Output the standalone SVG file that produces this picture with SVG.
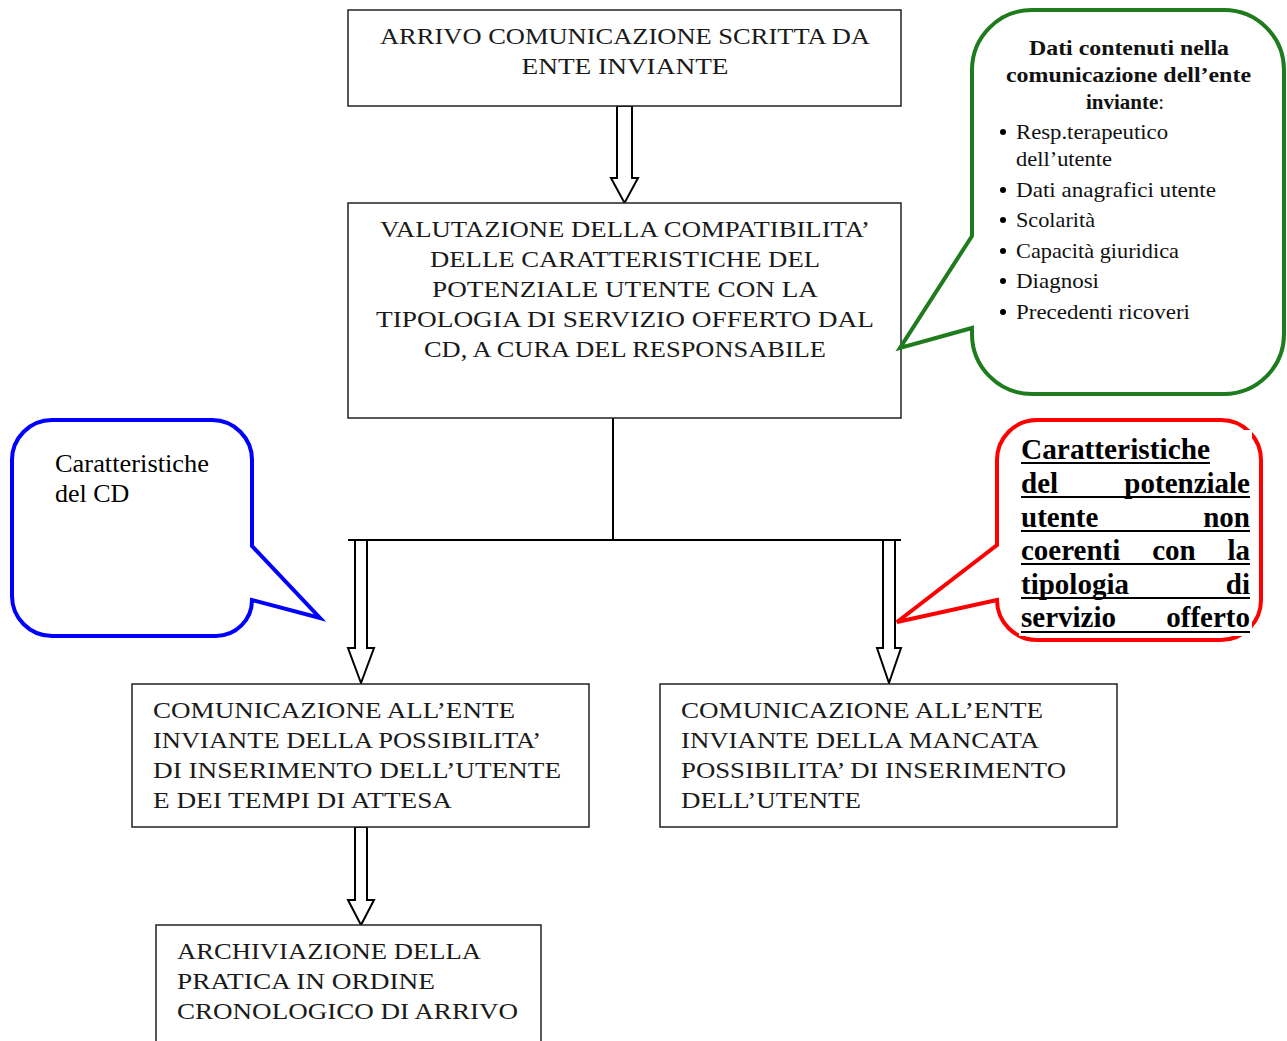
<svg xmlns="http://www.w3.org/2000/svg" width="1287" height="1041" viewBox="0 0 1287 1041">
<style>
.box{fill:#fff;stroke:#222;stroke-width:1.5}
.arr{fill:#fff;stroke:#000;stroke-width:2;stroke-linejoin:miter}
.ln{stroke:#000;stroke-width:2;fill:none}
.t{font-family:"Liberation Serif",serif;font-size:24px;fill:#1a1a1a}
.c{text-anchor:middle}
.g{font-family:"Liberation Serif",serif;font-size:21px;fill:#111}
.gb{font-weight:bold}
.r{font-family:"Liberation Serif",serif;font-size:29px;font-weight:bold;fill:#000}
.ul{stroke:#000;stroke-width:2.2}
.bl{font-family:"Liberation Serif",serif;font-size:26px;fill:#000}
</style>
<rect width="1287" height="1041" fill="#fff"/>
<g id="connectors">
<polygon class="arr" points="617,106 632,106 632,178 638,178 624.5,203 611,178 617,178"/>
<line class="ln" x1="613" y1="418" x2="613" y2="540"/>
<line class="ln" x1="348" y1="540" x2="901" y2="540"/>
<polygon class="arr" points="355,540 367,540 367,648 374,648 361,683 348,648 355,648"/>
<polygon class="arr" points="883,540 895,540 895,648 901,648 889,683 877,648 883,648"/>
<polygon class="arr" points="355,827 367,827 367,900 374,900 361,925 348,900 355,900"/>
</g>
<g id="n1">
<rect class="box" x="348" y="10" width="553" height="96"/>
<text class="t c" x="625" y="44" textLength="490" lengthAdjust="spacingAndGlyphs">ARRIVO COMUNICAZIONE SCRITTA DA</text>
<text class="t c" x="625" y="74" textLength="207" lengthAdjust="spacingAndGlyphs">ENTE INVIANTE</text>
</g>
<g id="n2">
<rect class="box" x="348" y="203" width="553" height="215"/>
<text class="t c" x="625" y="237" textLength="490" lengthAdjust="spacingAndGlyphs">VALUTAZIONE DELLA COMPATIBILITA’</text>
<text class="t c" x="625" y="267" textLength="390" lengthAdjust="spacingAndGlyphs">DELLE CARATTERISTICHE DEL</text>
<text class="t c" x="625" y="297" textLength="386" lengthAdjust="spacingAndGlyphs">POTENZIALE UTENTE CON LA</text>
<text class="t c" x="625" y="327" textLength="498" lengthAdjust="spacingAndGlyphs">TIPOLOGIA DI SERVIZIO OFFERTO DAL</text>
<text class="t c" x="625" y="357" textLength="402" lengthAdjust="spacingAndGlyphs">CD, A CURA DEL RESPONSABILE</text>
</g>
<g id="n3">
<rect class="box" x="132" y="684" width="457" height="143"/>
<text class="t" x="153" y="718" textLength="362" lengthAdjust="spacingAndGlyphs">COMUNICAZIONE ALL’ENTE</text>
<text class="t" x="153" y="748" textLength="388" lengthAdjust="spacingAndGlyphs">INVIANTE DELLA POSSIBILITA’</text>
<text class="t" x="153" y="778" textLength="408" lengthAdjust="spacingAndGlyphs">DI INSERIMENTO DELL’UTENTE</text>
<text class="t" x="153" y="808" textLength="299" lengthAdjust="spacingAndGlyphs">E DEI TEMPI DI ATTESA</text>
</g>
<g id="n4">
<rect class="box" x="660" y="684" width="457" height="143"/>
<text class="t" x="681" y="718" textLength="362" lengthAdjust="spacingAndGlyphs">COMUNICAZIONE ALL’ENTE</text>
<text class="t" x="681" y="748" textLength="358" lengthAdjust="spacingAndGlyphs">INVIANTE DELLA MANCATA</text>
<text class="t" x="681" y="778" textLength="385" lengthAdjust="spacingAndGlyphs">POSSIBILITA’ DI INSERIMENTO</text>
<text class="t" x="681" y="808" textLength="180" lengthAdjust="spacingAndGlyphs">DELL’UTENTE</text>
</g>
<g id="n5">
<rect class="box" x="156" y="925" width="385" height="130"/>
<text class="t" x="177" y="959" textLength="304" lengthAdjust="spacingAndGlyphs">ARCHIVIAZIONE DELLA</text>
<text class="t" x="177" y="989" textLength="258" lengthAdjust="spacingAndGlyphs">PRATICA IN ORDINE</text>
<text class="t" x="177" y="1019" textLength="341" lengthAdjust="spacingAndGlyphs">CRONOLOGICO DI ARRIVO</text>
</g>
<g id="callout-green">
<path d="M1032,10 H1224 A60,60 0 0 1 1284,70 V334 A60,60 0 0 1 1224,394 H1032 A60,60 0 0 1 972,334 V328 L900,348 L972,236 V70 A60,60 0 0 1 1032,10 Z" fill="#fff" stroke="#1e7b1e" stroke-width="4"/>
<text class="g c gb" x="1129" y="55" textLength="200" lengthAdjust="spacingAndGlyphs">Dati contenuti nella</text>
<text class="g c gb" x="1128.5" y="82" textLength="245" lengthAdjust="spacingAndGlyphs">comunicazione dell’ente</text>
<text class="g" x="1086" y="109"><tspan class="gb">inviante</tspan>:</text>
<g fill="#000">
<circle cx="1003" cy="132" r="3"/>
<circle cx="1003" cy="190" r="3"/>
<circle cx="1003" cy="220" r="3"/>
<circle cx="1003" cy="251" r="3"/>
<circle cx="1003" cy="281" r="3"/>
<circle cx="1003" cy="312" r="3"/>
</g>
<text class="g" x="1016" y="139" textLength="152" lengthAdjust="spacingAndGlyphs">Resp.terapeutico</text>
<text class="g" x="1016" y="166" textLength="96" lengthAdjust="spacingAndGlyphs">dell’utente</text>
<text class="g" x="1016" y="197" textLength="200" lengthAdjust="spacingAndGlyphs">Dati anagrafici utente</text>
<text class="g" x="1016" y="227" textLength="79" lengthAdjust="spacingAndGlyphs">Scolarità</text>
<text class="g" x="1016" y="258" textLength="163" lengthAdjust="spacingAndGlyphs">Capacità giuridica</text>
<text class="g" x="1016" y="288" textLength="83" lengthAdjust="spacingAndGlyphs">Diagnosi</text>
<text class="g" x="1016" y="319" textLength="174" lengthAdjust="spacingAndGlyphs">Precedenti ricoveri</text>
</g>
<g id="callout-blue">
<path d="M52,420 H212 A40,40 0 0 1 252,460 V546 L320,618 L252,600 A36,36 0 0 1 216,636 H52 A40,40 0 0 1 12,596 V460 A40,40 0 0 1 52,420 Z" fill="#fff" stroke="#0000ff" stroke-width="4"/>
<text class="bl" x="55" y="472" textLength="154" lengthAdjust="spacingAndGlyphs">Caratteristiche</text>
<text class="bl" x="55" y="502">del CD</text>
</g>
<g id="callout-red">
<path d="M1037,420 H1221 A40,40 0 0 1 1261,460 V600 A40,40 0 0 1 1221,640 H1037 A40,40 0 0 1 997,600 V600 L897,622 L997,545 V460 A40,40 0 0 1 1037,420 Z" fill="#fff" stroke="#ff0000" stroke-width="4"/>
<rect x="1019" y="430" width="233" height="206" fill="#fff"/>
<text class="r" x="1021" y="459" textLength="189" lengthAdjust="spacingAndGlyphs">Caratteristiche</text>
<line class="ul" x1="1021" y1="463" x2="1210" y2="463"/>
<text class="r" x="1021" y="493">del</text>
<text class="r" x="1250" y="493" text-anchor="end">potenziale</text>
<line class="ul" x1="1021" y1="497" x2="1250" y2="497"/>
<text class="r" x="1021" y="527">utente</text>
<text class="r" x="1250" y="527" text-anchor="end">non</text>
<line class="ul" x1="1021" y1="531" x2="1250" y2="531"/>
<text class="r" x="1021" y="560">coerenti</text>
<text class="r" x="1174" y="560" text-anchor="middle">con</text>
<text class="r" x="1250" y="560" text-anchor="end">la</text>
<line class="ul" x1="1021" y1="564" x2="1250" y2="564"/>
<text class="r" x="1021" y="594">tipologia</text>
<text class="r" x="1250" y="594" text-anchor="end">di</text>
<line class="ul" x1="1021" y1="598" x2="1250" y2="598"/>
<text class="r" x="1021" y="627">servizio</text>
<text class="r" x="1250" y="627" text-anchor="end">offerto</text>
<line class="ul" x1="1021" y1="632" x2="1250" y2="632"/>
</g>
</svg>
